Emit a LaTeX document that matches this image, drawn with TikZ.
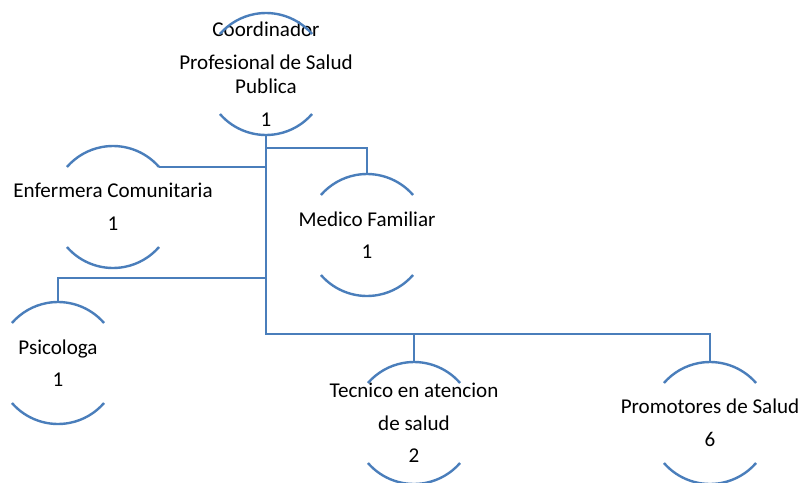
\documentclass[tikz,border=0pt]{standalone}
\usepackage{fontspec}
\setmainfont{Carlito}
\usepackage{tikz}
\usetikzlibrary{calc}

\definecolor{orgblue}{HTML}{4A7EBB}
\def\rad{45.75pt}
\tikzset{
  post/.style={align=center,inner sep=0pt,font=\fontsize{15.8pt}{24.4pt}\selectfont},
  ring/.style={draw=orgblue,line width=1.8pt}
}
% top and bottom arcs round a post, and its anchors for the lines
\newcommand{\ringarcs}[1]{%
  \draw[ring] ([shift={(41:\rad)}]#1.center) arc[start angle=41,end angle=139,radius=\rad];
  \draw[ring] ([shift={(221:\rad)}]#1.center) arc[start angle=221,end angle=319,radius=\rad];
  \coordinate (#1-n) at ([yshift=\rad]#1.center);
  \coordinate (#1-s) at ([yshift=-\rad]#1.center);
  \coordinate (#1-ne) at ([shift={(41:\rad)}]#1.center);
}

\begin{document}
\begin{tikzpicture}[x=0.75pt,y=-0.75pt]
      \useasboundingbox (0,0) rectangle (803,482);
      \node[post] (coord) at (266,74) {Coordinador\\Profesional de Salud\\[-6pt]Publica\\1};
      \node[post] (enf) at (113,207) {Enfermera Comunitaria\\1};
      \node[post] (med) at (367,235) {Medico Familiar\\1};
      \node[post] (psi) at (58,363) {Psicologa\\1};
      \node[post] (tec) at (414,423) {Tecnico en atencion\\de salud\\2};
      \node[post] (prom) at (710,423) {Promotores de Salud\\6};
      \ringarcs{coord}
      \ringarcs{enf}
      \ringarcs{med}
      \ringarcs{psi}
      \ringarcs{tec}
      \ringarcs{prom}
      \coordinate (bus) at (266,334);
      \draw[ring] (coord-s) -- (bus) -| (prom-n);
      \draw[ring] (bus) -| (tec-n);
      \draw[ring] (coord-s |- 0,148) -| (med-n);
      \draw[ring] (coord-s |- enf-ne) -- (enf-ne);
      \draw[ring] (coord-s |- 0,278) -| (psi-n);
    \end{tikzpicture}
\end{document}
